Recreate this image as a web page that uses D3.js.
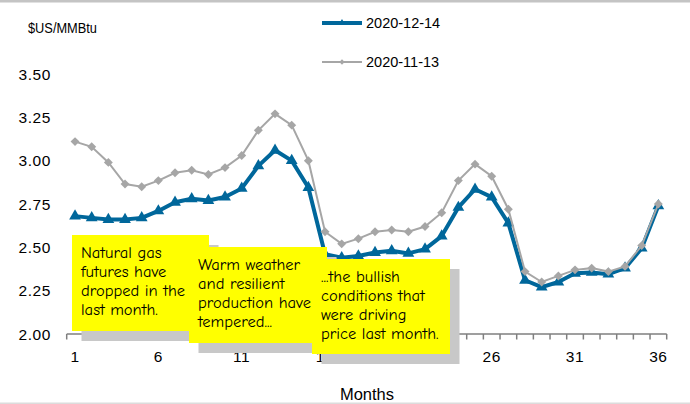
<!DOCTYPE html>
<html><head><meta charset="utf-8">
<script src="https://cdn.jsdelivr.net/npm/d3@7"></script>
<style>body{margin:0;background:#fff}svg{display:block}</style>
</head><body>
<svg id="c" width="690" height="404"></svg>
<script>
const months = d3.range(1, 37);
const dec14 = [2.68,2.67,2.66,2.66,2.67,2.71,2.76,2.78,2.77,2.79,2.84,2.97,3.06,3.00,2.845,
  2.46,2.44,2.45,2.47,2.48,2.465,2.49,2.565,2.73,2.835,2.79,2.64,2.31,2.27,2.30,2.35,2.355,2.345,2.38,2.495,2.74];
const nov13 = [3.11,3.08,2.99,2.865,2.85,2.885,2.93,2.945,2.92,2.96,3.03,3.175,3.27,3.205,3.00,
  2.59,2.52,2.55,2.59,2.60,2.59,2.62,2.70,2.885,2.98,2.91,2.72,2.36,2.30,2.335,2.37,2.38,2.36,2.39,2.51,2.75];
const yTicks = [2.00,2.25,2.50,2.75,3.00,3.25,3.50];
const xTickLabels = [1,6,11,16,21,26,31,36];
const seriesNames = ["2020-12-14","2020-11-13"];
const notes = [
  ["Natural gas","futures have","dropped in the","last month."],
  ["Warm weather","and resilient","production have","tempered..."],
  ["...the bullish","conditions that","were driving","price last month."]
];

const svg = d3.select("#c");
const blue = "#00679B", gray = "#A6A6A6", axisCol = "#7F7F7F";
const x = d3.scaleBand().domain(months).range([66.7, 666.7]);
const xc = m => x(m) + x.bandwidth()/2;
const y = d3.scaleLinear().domain([2.0, 3.5]).range([334, 74]);

// borders
svg.append("rect").attr("x",0).attr("y",0).attr("width",690).attr("height",2.5).attr("fill","#C4C4C4");
svg.append("rect").attr("x",0).attr("y",402.5).attr("width",690).attr("height",1.5).attr("fill","#DCDCDC");

// y labels
svg.append("g").selectAll("text").data(yTicks).join("text")
  .attr("x",51).attr("y",d=>y(d)).attr("dy","0.36em").attr("text-anchor","end")
  .attr("font-family","Liberation Sans, Arial, sans-serif").attr("font-size",15.5).attr("letter-spacing",0.6)
  .attr("fill","#000").text(d=>d.toFixed(2));

svg.append("text").attr("x",28).attr("y",28).attr("dy","0.36em")
  .attr("font-family","Liberation Sans, Arial, sans-serif").attr("font-size",14.5)
  .attr("textLength",69).attr("lengthAdjust","spacingAndGlyphs").text("$US/MMBtu");

// x axis
const xAxis = svg.append("g");
xAxis.append("line").attr("x1",66.7).attr("x2",666.7).attr("y1",334).attr("y2",334)
  .attr("stroke",axisCol).attr("stroke-width",1.5);
const bounds = months.map(m=>x(m)).concat([x(36)+x.bandwidth()]);
xAxis.selectAll("line.t").data(bounds).join("line").attr("class","t")
  .attr("x1",d=>d).attr("x2",d=>d).attr("y1",334).attr("y2",339.5)
  .attr("stroke",axisCol).attr("stroke-width",1.5);
xAxis.selectAll("text").data(xTickLabels).join("text")
  .attr("x",d=>xc(d)).attr("y",356).attr("dy","0.36em").attr("text-anchor","middle")
  .attr("font-family","Liberation Sans, Arial, sans-serif").attr("font-size",15.5).attr("letter-spacing",0.6)
  .text(d=>d);
svg.append("text").attr("x",367).attr("y",394).attr("dy","0.36em").attr("text-anchor","middle")
  .attr("font-family","Liberation Sans, Arial, sans-serif").attr("font-size",16.5).text("Months");

// lines (blue first, gray drawn on top)
const line = data => d3.line().x((d,i)=>xc(months[i])).y(d=>y(d))(data);
svg.append("path").attr("d",line(dec14)).attr("fill","none").attr("stroke",blue).attr("stroke-width",4).attr("stroke-linejoin","round");
svg.append("g").selectAll("path").data(dec14).join("path")
  .attr("d",d3.symbol(d3.symbolTriangle, 60)())
  .attr("transform",(d,i)=>`translate(${xc(months[i])},${y(d)})`).attr("fill",blue);
svg.append("path").attr("d",line(nov13)).attr("fill","none").attr("stroke",gray).attr("stroke-width",2);
svg.append("g").selectAll("path").data(nov13).join("path")
  .attr("d",d3.symbol(d3.symbolSquare, 40)())
  .attr("transform",(d,i)=>`translate(${xc(months[i])},${y(d)}) rotate(45)`).attr("fill",gray);

// legend
const leg = svg.append("g");
[[blue,4,23,d3.symbolTriangle,22,0],[gray,2,62,d3.symbolSquare,14,45]].forEach((s,i)=>{
  leg.append("line").attr("x1",322).attr("x2",362).attr("y1",s[2]).attr("y2",s[2]).attr("stroke",s[0]).attr("stroke-width",s[1]);
  leg.append("path").attr("d",d3.symbol(s[3],s[4])()).attr("transform",`translate(342,${s[2]}) rotate(${s[5]})`).attr("fill",s[0]);
  leg.append("text").attr("x",366).attr("y",s[2]).attr("dy","0.36em")
    .attr("font-family","Liberation Sans, Arial, sans-serif").attr("font-size",14.5).text(seriesNames[i]);
});

// annotations
const boxes = [{x:72,y:235,w:137,h:96},{x:189,y:247,w:138,h:96},{x:312,y:259,w:138,h:95}];
boxes.forEach((b,i)=>{
  svg.append("rect").attr("x",b.x+9.5).attr("y",b.y+10).attr("width",b.w).attr("height",b.h).attr("fill","#C8C8C8");
  svg.append("rect").attr("x",b.x).attr("y",b.y).attr("width",b.w).attr("height",b.h).attr("fill","#FFFF00");
  const t = svg.append("text").attr("font-family","'Comic Sans MS','Comic Neue',Lato,sans-serif").attr("font-size",16.5).attr("fill","#000");
  notes[i].forEach((s,j)=>t.append("tspan").attr("x",b.x+9).attr("y",b.y+23+j*19).text(s));
});
</script>
</body></html>
